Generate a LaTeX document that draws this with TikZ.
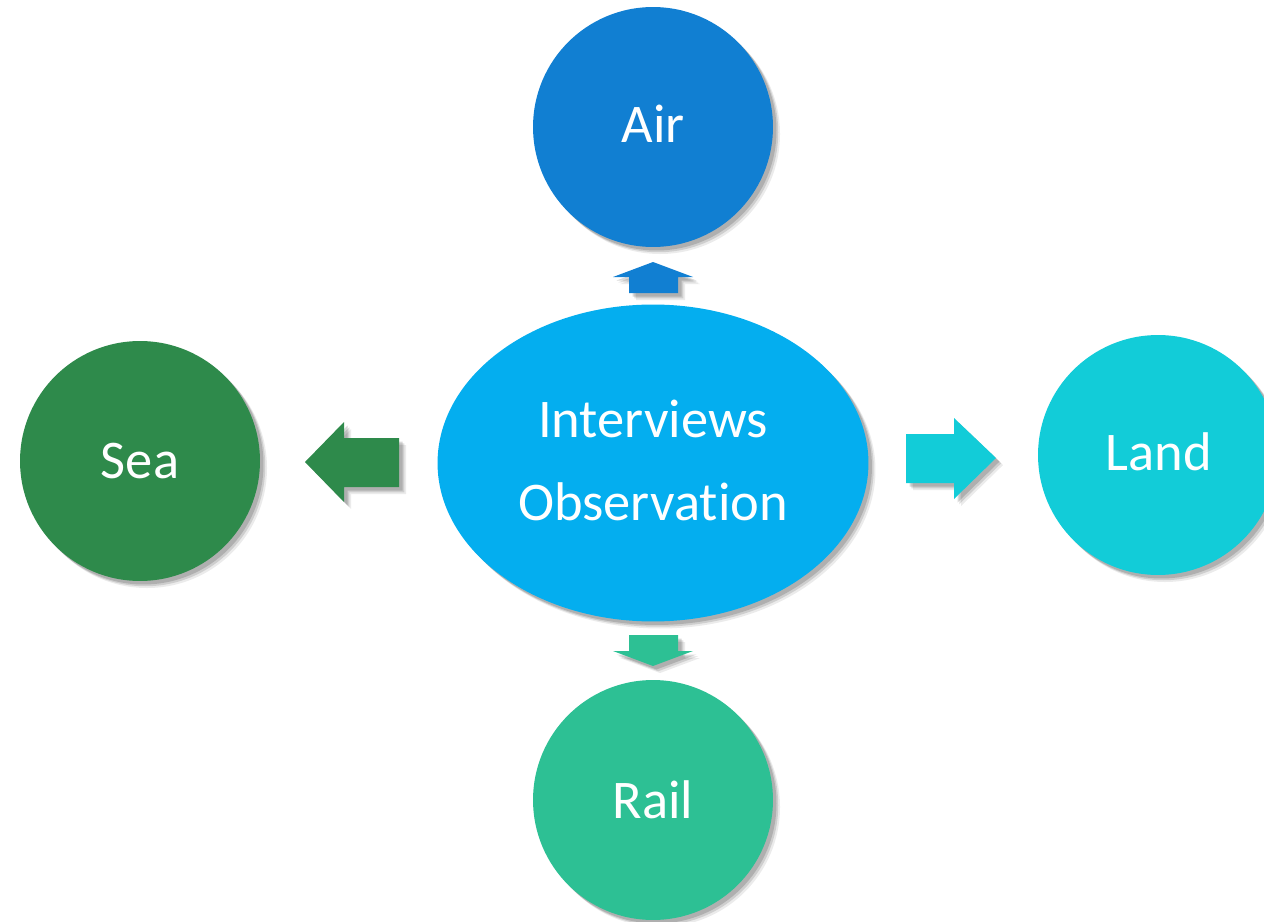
\documentclass[tikz,border=0pt]{standalone}
\usepackage{fontspec}
\setmainfont{Carlito}[Ligatures=NoCommon]
\usetikzlibrary{shapes.geometric,shadows}
\definecolor{airc}{HTML}{117FD2}
\definecolor{midc}{HTML}{04AEEF}
\definecolor{seac}{HTML}{2E8A4B}
\definecolor{landc}{HTML}{12CCD8}
\definecolor{railc}{HTML}{2DC094}
\tikzset{
  soft/.style={
    general shadow={shadow xshift=4pt,shadow yshift=-4pt,opacity=0.08,fill=black},
    general shadow={shadow xshift=3pt,shadow yshift=-3pt,opacity=0.12,fill=black},
    general shadow={shadow xshift=2pt,shadow yshift=-2pt,opacity=0.15,fill=black}},
  bubble/.style={circle,minimum size=4.8cm,inner sep=0pt,soft},
  lbl/.style={text=white,font=\fontsize{31}{37}\selectfont,anchor=base,inner sep=0pt},
  blockarrow/.style={soft}
}
\begin{document}
\begin{tikzpicture}[x=0.02cm,y=-0.02cm]
\useasboundingbox (0,0) rectangle (1264,922);
% circles
\node[bubble,fill=airc] (air) at (653,127) {};
\node[bubble,fill=seac] (sea) at (140,461) {};
\node[bubble,fill=landc] (land) at (1158,455) {};
\node[bubble,fill=railc] (rail) at (653,800) {};
\node[ellipse,minimum width=8.62cm,minimum height=6.34cm,inner sep=0pt,fill=midc,soft] (mid) at (653,463) {};
% labels
\node[lbl] (airt) at (653,143) {Air};
\node[lbl] (seat) at (140,478) {Sea};
\node[lbl] (landt) at (1159,470) {Land};
\node[lbl] (railt) at (653,818) {Rail};
\node[lbl] (midt1) at (653,437) {Interviews};
\node[lbl] (midt2) at (653,520) {Observation};
% block arrows
\fill[airc,blockarrow] (629,293) -- (629,277) -- (613,277) -- (653,262) -- (693,277) -- (678,277) -- (678,293) -- cycle;
\fill[railc,blockarrow] (629,635) -- (678,635) -- (678,651) -- (693,651) -- (653,666) -- (613,651) -- (629,651) -- cycle;
\fill[seac,blockarrow] (399,438) -- (344,438) -- (344,422) -- (305,462) -- (344,502) -- (344,487) -- (399,487) -- cycle;
\fill[landc,blockarrow] (906,434) -- (954,434) -- (954,418) -- (996,458) -- (954,499) -- (954,483) -- (906,483) -- cycle;
\end{tikzpicture}
\end{document}
